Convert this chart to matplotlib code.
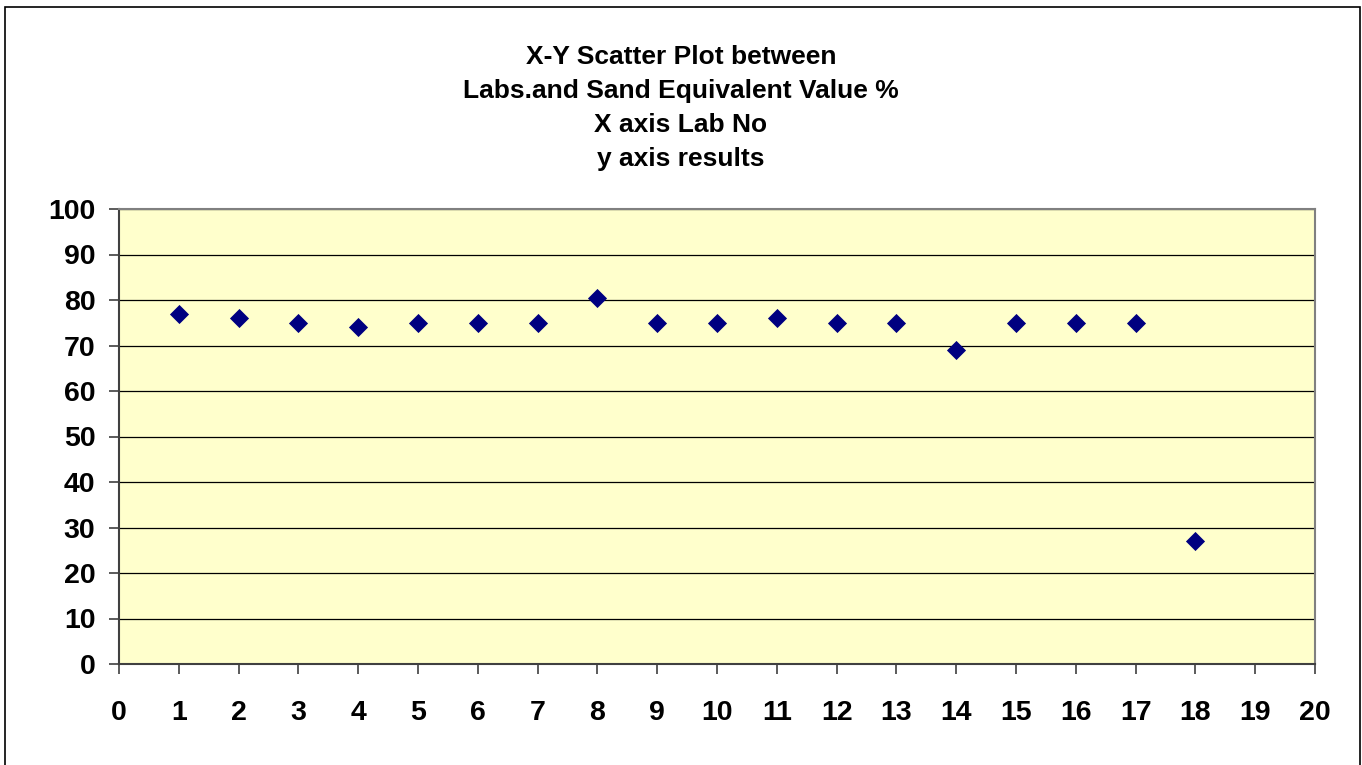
import matplotlib
matplotlib.use('Agg')
import matplotlib.pyplot as plt
from matplotlib.patches import Rectangle

plt.rcParams['font.family'] = ['Liberation Sans', 'DejaVu Sans']
plt.rcParams['font.weight'] = 'bold'

lab_no = [1, 2, 3, 4, 5, 6, 7, 8, 9, 10, 11, 12, 13, 14, 15, 16, 17, 18]
results = [77, 76, 75, 74, 75, 75, 75, 80.5, 75, 75, 76, 75, 75, 69, 75, 75, 75, 27]
x_ticks = list(range(0, 21))
y_ticks = list(range(0, 101, 10))

W, H = 1362, 765
fig = plt.figure(figsize=(W / 100, H / 100), dpi=100)

# outer chart border (bottom edge falls off the image)
fig.patches.append(Rectangle((5 / W, -5 / H), 1355 / W, (H - 2) / H,
                             transform=fig.transFigure, fill=False,
                             edgecolor='black', linewidth=1.2))

ax = fig.add_axes([119 / W, (H - 664) / H, (1315 - 119) / W, (664 - 209) / H])
ax.set_facecolor('#FFFFCC')
ax.scatter(lab_no, results, marker='D', s=95, color='#000080', zorder=3,
           linewidths=0)

ax.set_xlim(0, 20)
ax.set_ylim(0, 100)
ax.set_xticks(x_ticks)
ax.set_yticks(y_ticks)
ax.grid(axis='y', color='black', linewidth=0.9)
ax.set_axisbelow(True)

for s in ax.spines.values():
    s.set_color('#808080')
    s.set_linewidth(1.5)
ax.spines['left'].set_color('#404040')
ax.spines['bottom'].set_color('#404040')

ax.tick_params(axis='both', direction='out', length=7, width=1.2,
               color='#404040', labelsize=20.5)
ax.tick_params(axis='x', pad=19)
ax.tick_params(axis='y', pad=10)

fig.text(0.5, 1 - 45 / H,
         'X-Y Scatter Plot between\nLabs.and Sand Equivalent Value %\nX axis Lab No\ny axis results',
         ha='center', va='top', fontsize=19, fontweight='bold', linespacing=1.52)

fig.savefig('out.png', dpi=100)
